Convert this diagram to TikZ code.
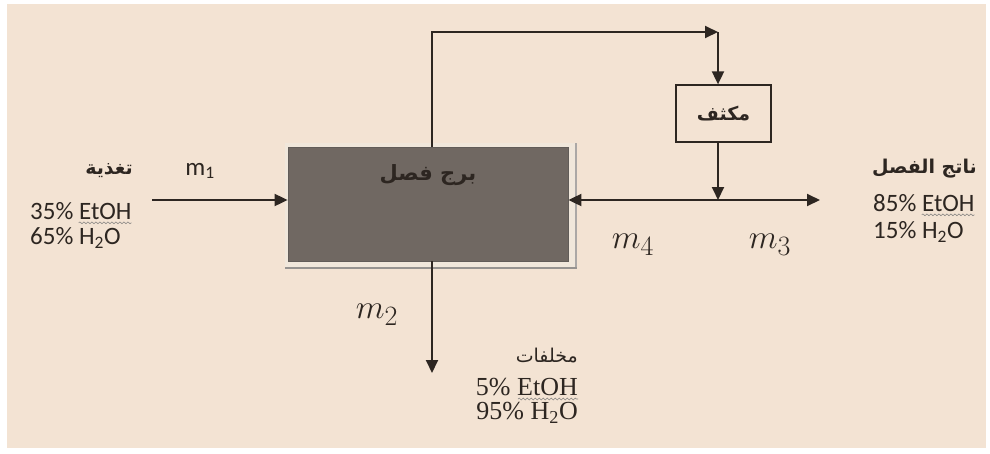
\documentclass[tikz,border=0pt]{standalone}
\usepackage{fontspec}
\setmainfont{Carlito}
\newfontfamily\arabicfont[Script=Arabic]{DejaVu Sans}
\newfontfamily\seriffont{Liberation Serif}
\TeXXeTstate=1
\usetikzlibrary{arrows.meta,positioning,decorations.pathmorphing}
\definecolor{paper}{RGB}{243,227,211}
\definecolor{ink}{RGB}{45,38,33}
\definecolor{colfill}{RGB}{112,104,98}
\definecolor{bevel}{RGB}{240,231,219}
\tikzset{
  flowArrow/.style={-{Triangle[length=13pt,width=12pt]},line width=1.9pt,draw=ink},
  colbox/.style={draw=ink!75,fill=colfill,line width=0.8pt,minimum width=280pt,minimum height=114pt,inner sep=0pt},
  condbox/.style={draw=ink,line width=1.3pt,minimum width=95pt,minimum height=57pt,inner sep=0pt},
  lbl/.style={inner sep=0pt,text=ink,font=\fontsize{25}{27}\selectfont},
  serlbl/.style={inner sep=0pt,text=ink,font=\seriffont\fontsize{26}{28}\selectfont},
  mlbl/.style={inner sep=0pt,text=ink,font=\fontsize{24.88}{28}\selectfont,scale=1.35},
  arlbl/.style={inner sep=0pt,text=ink,font=\arabicfont\bfseries\fontsize{19}{22}\selectfont},
  wavy/.style={draw=ink!55,line width=0.6pt,decorate,decoration={snake,amplitude=0.9pt,segment length=4pt}}
}

\begin{document}
\begin{tikzpicture}[x=1pt,y=-1pt]
  \useasboundingbox (0,0) rectangle (990,453);
  \fill[white] (0,0) rectangle (990,453);
  \fill[paper] (7,4) rectangle (986,448);

  % column and condenser
  \fill[bevel] (285,143) rectangle (576,268);
  \draw[ink!40,line width=1.2pt] (576,143) -- (576,268);
  \draw[ink!50,line width=2.5pt] (285,268) -- (577,268);
  \node[colbox] (col) at (428,204) {};
  \node[arlbl,font=\arabicfont\bfseries\fontsize{21}{24}\selectfont] (colT) at ([yshift=29pt]col.center) {\beginR برج فصل\endR};
  \node[condbox,font=\arabicfont\bfseries\fontsize{19}{22}\selectfont,text=ink] (cond) at (723.5,113.5) {\beginR مكثف\endR};

  \coordinate (feedIn) at (152,200);
  \coordinate (topL) at (432,32);
  \coordinate (topR) at (718,32);
  \coordinate (jn) at (718,200);
  \coordinate (prodOut) at (820,200);
  \coordinate (wasteOut) at (432,373);

  % streams
  \draw[flowArrow] (feedIn) -- (feedIn -| col.west);
  \draw[flowArrow] (topL |- col.north) -- (topL) -- (topR);
  \draw[flowArrow] (topR) -- (topR |- cond.north);
  \draw[flowArrow] (jn |- cond.south) -- (jn);
  \draw[flowArrow] (jn) -- (jn -| col.east);
  \draw[flowArrow] (jn) -- (prodOut);
  \draw[flowArrow] (wasteOut |- col.south) -- (wasteOut);

  % feed
  \node[arlbl,anchor=east] (feedT) at (133,171) {\beginR تغذية\endR};
  \node[lbl,anchor=west] (feedA) at (30,211) {35\% EtOH};
  \node[lbl,anchor=west] (feedB) at (30,238) {65\% H\textsubscript{2}O};
  \node[lbl] (m1) at (200,171) {m\textsubscript{1}};

  % product
  \node[arlbl,anchor=east] (prodT) at (977,169) {\beginR ناتج الفصل\endR};
  \node[lbl,anchor=west] (prodA) at (873,203) {85\% EtOH};
  \node[lbl,anchor=west] (prodB) at (873,232) {15\% H\textsubscript{2}O};
  \node[mlbl] (m4) at (633,245) {$m_4$};
  \node[mlbl] (m3) at (770,245) {$m_3$};

  % bottoms
  \node[mlbl] (m2) at (377,315) {$m_2$};
  \node[arlbl,anchor=east,font=\arabicfont\fontsize{19}{22}\selectfont] (wasteT) at (578,356) {\beginR مخلفات\endR};
  \node[serlbl,anchor=east] (wasteA) at (578,387) {5\% EtOH};
  \node[serlbl,anchor=east] (wasteB) at (578,413) {95\% H\textsubscript{2}O};

  % spelling marks under EtOH
  \draw[wavy] ([xshift=-53pt,yshift=-3pt]feedA.south east) -- ([yshift=-3pt]feedA.south east);
  \draw[wavy] ([xshift=-53pt,yshift=-3pt]prodA.south east) -- ([yshift=-3pt]prodA.south east);
  \draw[wavy] ([xshift=-60pt,yshift=-3pt]wasteA.south east) -- ([yshift=-3pt]wasteA.south east);
\end{tikzpicture}
\end{document}
